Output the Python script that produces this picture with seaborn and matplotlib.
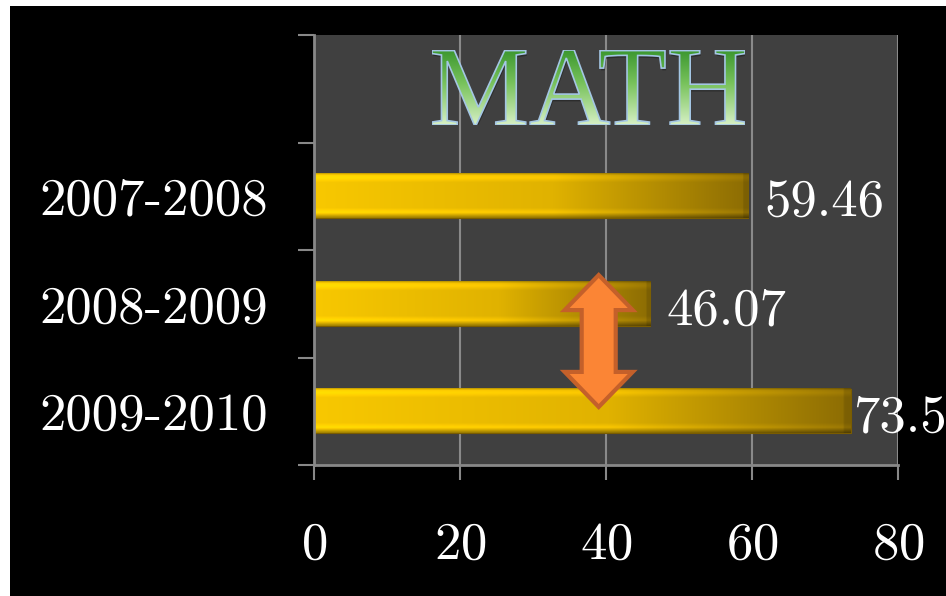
import numpy as np
import pandas as pd
import seaborn as sns
import matplotlib.pyplot as plt
from matplotlib.patches import Rectangle, PathPatch, Polygon
from matplotlib.textpath import TextPath
from matplotlib.font_manager import FontProperties
from matplotlib.colors import to_rgb
from matplotlib.transforms import Affine2D

# data
years = ['2007-2008', '2008-2009', '2009-2010']
scores = [59.46, 46.07, 73.5]
value_labels = ['59.46', '46.07', '73.5']
x_ticks = [0, 20, 40, 60, 80]
title = 'MATH'

# empty slot at the top leaves room for the title
order = [' '] + years

sns.set_style('dark')
plt.rcParams['font.family'] = ['cmr10', 'DejaVu Serif']
plt.rcParams['axes.formatter.use_mathtext'] = True

W, H = 946, 596
fig = plt.figure(figsize=(W / 100, H / 100), dpi=100, facecolor='white')
# black slide, thin white margin on top and left
fig.patches.append(Rectangle((10 / W, 0), 1, 1 - 6 / H, transform=fig.transFigure,
                             facecolor='black', edgecolor='none', zorder=-10))

ax = fig.add_axes([314 / W, 1 - 465 / H, 584 / W, 430 / H])
df = pd.DataFrame({'year': years, 'score': scores})
sns.barplot(data=df, x='score', y='year', order=order, orient='h', width=0.41,
            color='#f0c000', errorbar=None, ax=ax)
bars = list(ax.patches)


def bar_gradient():
    # gold bar: bright on the left, dark olive on the right, bevelled edges
    t = np.linspace(0, 1, 300)
    cols = np.array([to_rgb('#f8c800'), to_rgb('#e0b200'), to_rgb('#8c6c04')])
    base = np.stack([np.interp(t, [0, 0.55, 1], cols[:, i]) for i in range(3)], axis=-1)
    v = np.linspace(0, 1, 60)
    prof = np.interp(v, [0, 0.04, 0.10, 0.2, 0.78, 0.88, 0.95, 1],
                     [0.8, 1.08, 1.12, 1.0, 1.0, 1.12, 0.85, 0.65])
    img = prof[:, None, None] * base[None, :, :]
    img[:, -4:, :] *= 0.88
    return np.clip(img, 0, 1)


grad = bar_gradient()
for bar in bars:
    x0, y0 = bar.get_x(), bar.get_y()
    w, h = bar.get_width(), bar.get_height()
    bar.set_edgecolor('#7a5c00')
    bar.set_linewidth(0.8)
    ax.imshow(grad, extent=(x0, x0 + w, y0 + h, y0), aspect='auto', origin='upper',
              zorder=bar.get_zorder(), clip_path=bar, interpolation='bilinear')

# value labels
for bar, lab, pad in zip(bars, value_labels, [12, 12, 2]):
    ax.annotate(lab, (bar.get_x() + bar.get_width(), bar.get_y() + bar.get_height() / 2),
                xytext=(pad, -5), textcoords='offset points', va='center', ha='left',
                color='white', fontsize=38, annotation_clip=False)

# orange double arrow between the last two bars
xc, top, bot = 39.0, 1.733, 2.96
hw, bw, hl = 4.66, 2.33, 0.326
arrow = [(xc, top), (xc + hw, top + hl), (xc + bw, top + hl), (xc + bw, bot - hl),
         (xc + hw, bot - hl), (xc, bot), (xc - hw, bot - hl), (xc - bw, bot - hl),
         (xc - bw, top + hl), (xc - hw, top + hl)]
ax.add_patch(Polygon(arrow, closed=True, facecolor='#fb8535', edgecolor='#c4602a',
                     lw=3, zorder=5, joinstyle='miter'))

ax.set_xlim(0, 80)
ax.set_ylim(len(order) - 0.5, -0.5)
ax.set_xticks(x_ticks)
ax.set_yticks(range(len(order)))
ax.set_yticklabels(order)
ax.set_yticks(np.arange(-0.5, len(order), 1), minor=True)
ax.set_xlabel('')
ax.set_ylabel('')

ax.set_facecolor('#404040')
ax.grid(axis='x', color='#8a8a8a', lw=1.5)
ax.grid(axis='y', visible=False)
ax.set_axisbelow(True)
for side in ['top', 'right']:
    ax.spines[side].set_visible(False)
for side in ['left', 'bottom']:
    ax.spines[side].set_visible(True)
    ax.spines[side].set_color('#888888')
    ax.spines[side].set_linewidth(2)

ax.tick_params(axis='x', bottom=True, length=11, width=1.5, color='#888888', pad=30,
               labelsize=38, labelcolor='white', direction='out')
ax.tick_params(axis='y', which='major', left=False, length=0, pad=33,
               labelsize=38, labelcolor='white')
ax.tick_params(axis='y', which='minor', left=True, length=11.5, width=1.5,
               color='#888888', direction='out')

# green gradient title drawn from a text path
tax = fig.add_axes([432 / W, 1 - 125 / H, 313 / W, 75 / H])
tax.axis('off')
tp = TextPath((0, 0), title, size=1, prop=FontProperties(family='Liberation Serif'))
bb = tp.get_extents()
shadow = PathPatch(tp.transformed(Affine2D().translate(0.01, -0.02)),
                   facecolor='#202020', edgecolor='none', alpha=0.6)
tax.add_patch(shadow)
outline = PathPatch(tp, facecolor='none', edgecolor='#a4c6e4', lw=1.2, zorder=3)
tax.add_patch(outline)
g = np.linspace(0, 1, 100)
gc = np.array([to_rgb('#3a962e'), to_rgb('#78c25c'), to_rgb('#d6f0c4')])
gimg = np.stack([np.interp(g, [0, 0.45, 1], gc[:, i]) for i in range(3)], axis=-1)[:, None, :]
tax.imshow(np.repeat(gimg, 4, axis=1), extent=(bb.x0, bb.x1, bb.y0, bb.y1), origin='upper',
           aspect='auto', clip_path=outline, zorder=2, interpolation='bilinear')
tax.set_xlim(bb.x0, bb.x1)
tax.set_ylim(bb.y0, bb.y1)

fig.savefig('out.png', dpi=100, facecolor=fig.get_facecolor())
